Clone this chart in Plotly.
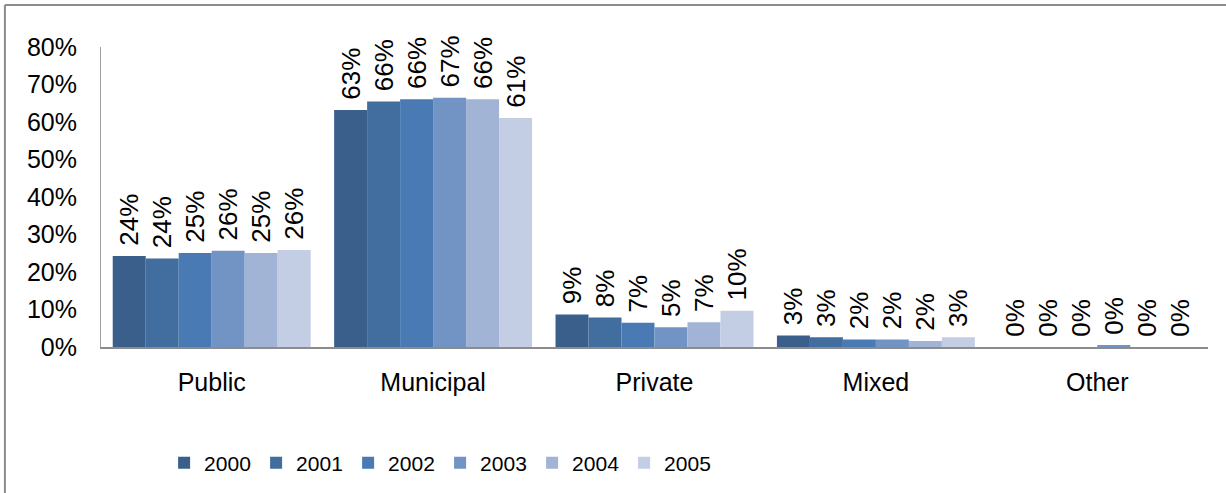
import plotly.graph_objects as go

categories = ["Public", "Municipal", "Private", "Mixed", "Other"]
years = ["2000", "2001", "2002", "2003", "2004", "2005"]

# share per year, one list per category position
v2000 = [0.243, 0.632, 0.087, 0.031, 0.0]
v2001 = [0.236, 0.655, 0.079, 0.026, 0.0]
v2002 = [0.251, 0.661, 0.065, 0.020, 0.0]
v2003 = [0.257, 0.665, 0.053, 0.020, 0.003]
v2004 = [0.251, 0.661, 0.066, 0.016, 0.0]
v2005 = [0.259, 0.611, 0.097, 0.026, 0.0]
series = [v2000, v2001, v2002, v2003, v2004, v2005]

colors = ["#3A5F8B", "#416D9F", "#4A7AB4", "#7194C4", "#A1B4D5", "#C3CDE3"]
FONT = "Liberation Sans, Arial, sans-serif"

fig = go.Figure()
for name, vals, c in zip(years, series, colors):
    fig.add_trace(go.Bar(
        x=categories, y=vals, name=name, marker=dict(color=c, line=dict(width=0)),
        # leading nbsp lifts the rotated label a little off the bar
        texttemplate="\u00a0%{y:.0%}", textposition="outside", textangle=-90,
        constraintext="none", cliponaxis=False,
        textfont=dict(family=FONT, size=26, color="#000000"),
    ))

fig.update_layout(
    width=1226, height=493,
    margin=dict(l=101, r=18, t=47, b=146, autoexpand=False),
    paper_bgcolor="white", plot_bgcolor="white",
    barmode="group", bargap=0.106, bargroupgap=0,
    font=dict(family=FONT, size=25, color="#000000"),
    showlegend=True,
    legend=dict(orientation="h", x=0.057, xanchor="left", y=-0.387, yanchor="middle",
                entrywidth=47, entrywidthmode="pixels", traceorder="normal",
                font=dict(family=FONT, size=21), itemsizing="constant"),
)
fig.update_yaxes(range=[0, 0.8], dtick=0.1, tickformat=".0%", showgrid=False,
                 showline=True, linecolor="#A0A0A0", linewidth=1, ticks="",
                 ticklabelstandoff=18, zeroline=False, automargin=False)
fig.update_xaxes(showline=True, linecolor="#8C8C8C", linewidth=1.5, ticks="",
                 ticklabelstandoff=12, showgrid=False, automargin=False)

# frame: only top and left edges fall inside the picture
fig.add_shape(type="line", xref="paper", yref="paper", x0=-0.0868, x1=1.02,
              y0=1.14, y1=1.14, line=dict(color="#8C8C8C", width=2))
fig.add_shape(type="line", xref="paper", yref="paper", x0=-0.0868, x1=-0.0868,
              y0=1.14, y1=-0.5, line=dict(color="#8C8C8C", width=2))

fig.write_html("out.html", config={"displayModeBar": False},
               post_script="document.body.style.margin='0';")
